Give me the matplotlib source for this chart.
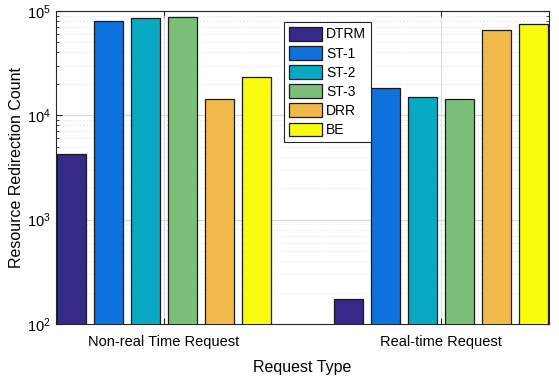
import matplotlib
matplotlib.use("Agg")
import matplotlib.pyplot as plt
import numpy as np

plt.rcParams["font.family"] = ["Liberation Sans", "DejaVu Sans"]

# Data
request_types = ["Non-real Time Request", "Real-time Request"]
methods = ["DTRM", "ST-1", "ST-2", "ST-3", "DRR", "BE"]
non_real_time = [4300, 80500, 85000, 87500, 14300, 23200]
real_time = [173, 18100, 15000, 14300, 66000, 74500]

COLORS = ["#352a87", "#0d72dd", "#07a9c3", "#7cbf7b", "#f0b94a", "#f9fb0e"]

fig = plt.figure(figsize=(5.59, 3.78), dpi=100)
ax = fig.add_axes([0.100, 0.143, 0.882, 0.828])

x = np.arange(1, len(request_types) + 1)
step = 0.1336
width = 0.107
values = np.array([non_real_time, real_time])
for i, name in enumerate(methods):
    ax.bar(x + (i - 2.5) * step, values[:, i], width,
           color=COLORS[i], edgecolor="#1a1a1a", linewidth=0.9, label=name, zorder=3)

ax.set_yscale("log")
ax.set_ylim(1e2, 1e5)
ax.set_xlim(0.61, 2.39)
ax.set_xticks(x)
ax.set_xticklabels(request_types)
ax.set_xlabel("Request Type", fontsize=11.5, labelpad=8)
ax.set_ylabel("Resource Redirection Count", fontsize=11.5, labelpad=2)

ax.grid(True, which="major", color="#d9d9d9", linewidth=0.8, zorder=0)
ax.grid(True, which="minor", axis="y", color="#e6e6e6", linestyle=(0, (2, 2)), linewidth=0.6, zorder=0)
ax.tick_params(which="both", direction="in", top=True, right=True, labelsize=10.5, color="#262626")
ax.tick_params(which="major", length=4)
ax.tick_params(which="minor", length=2.5)
ax.tick_params(axis="x", pad=8)
for s in ax.spines.values():
    s.set_color("#262626")
    s.set_linewidth(0.8)

leg = ax.legend(loc="upper left", bbox_to_anchor=(0.462, 0.965), fontsize=10,
                fancybox=False, edgecolor="#262626", framealpha=1,
                handlelength=2.4, handleheight=1.15, labelspacing=0.33,
                handletextpad=0.3, borderpad=0.35, borderaxespad=0)
leg.get_frame().set_linewidth(0.8)

fig.savefig("out.png", dpi=100)
